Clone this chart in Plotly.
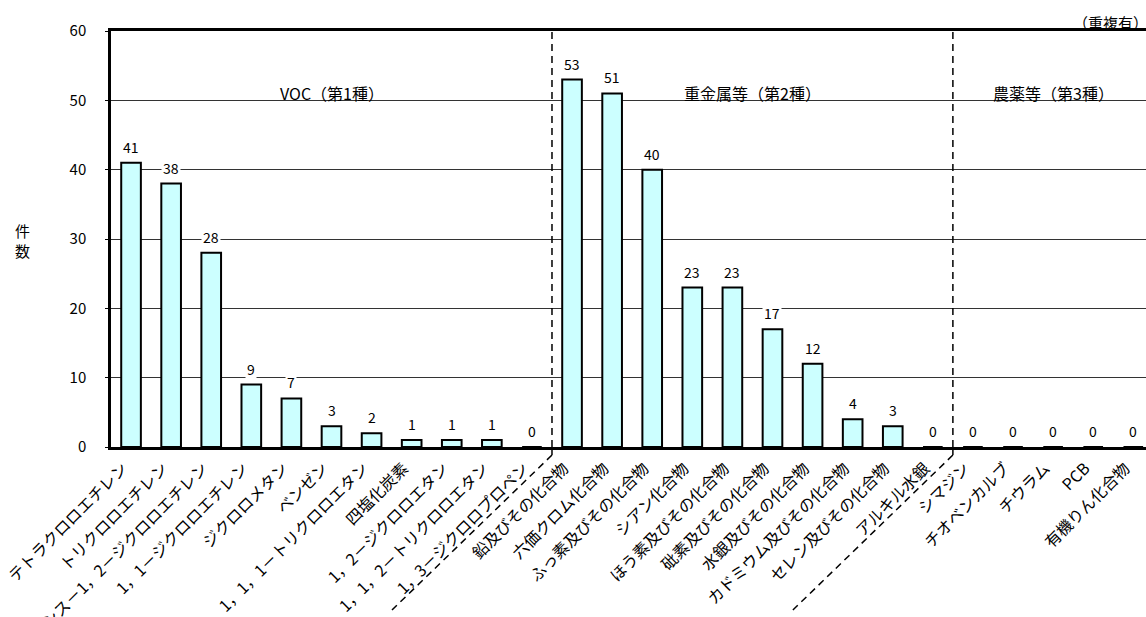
import plotly.graph_objects as go

categories = [
    "テトラクロロエチレン", "トリクロロエチレン", "シス－1，2－ジクロロエチレン",
    "1，1－ジクロロエチレン", "ジクロロメタン", "ベンゼン",
    "1，1，1－トリクロロエタン", "四塩化炭素", "1，2－ジクロロエタン",
    "1，1，2－トリクロロエタン", "1，3－ジクロロプロペン",
    "鉛及びその化合物", "六価クロム化合物", "ふっ素及びその化合物", "シアン化合物",
    "ほう素及びその化合物", "砒素及びその化合物", "水銀及びその化合物",
    "カドミウム及びその化合物", "セレン及びその化合物", "アルキル水銀",
    "シマジン", "チオベンカルブ", "チウラム", "PCB", "有機りん化合物",
]
values = [41, 38, 28, 9, 7, 3, 2, 1, 1, 1, 0,
          53, 51, 40, 23, 23, 17, 12, 4, 3, 0,
          0, 0, 0, 0, 0]
group_names = ["VOC（第1種）", "重金属等（第2種）", "農薬等（第3種）"]
group_sizes = [11, 10, 5]
y_ticks = [0, 10, 20, 30, 40, 50, 60]

FONT = "Noto Sans CJK JP, Noto Sans, sans-serif"
W, H = 1146, 617
ML, MT = 111, 31
plot_bottom = 447
plot_h = plot_bottom - MT
MB = H - plot_bottom
MR = 0
n = len(categories)
cat_px = 40.09
plot_w = W - ML - MR
x_max = -0.5 + plot_w / cat_px

fig = go.Figure()
fig.add_trace(go.Bar(
    x=list(range(n)), y=values, width=0.49,
    marker=dict(color="#CCFFFF", line=dict(color="black", width=2)),
    hoverinfo="x+y",
))

annotations = []
for i, v in enumerate(values):
    annotations.append(dict(
        x=i, y=v, xref="x", yref="y", text=str(v), showarrow=False,
        yanchor="bottom", yshift=4, bgcolor="white", borderpad=1,
        font=dict(family=FONT, size=14, color="black"),
    ))

start = 0
seps = []
for gname, gsize in zip(group_names, group_sizes):
    end = start + gsize
    center = (start + end - 1) / 2
    annotations.append(dict(
        x=center, y=(plot_bottom - 79) / plot_h, xref="x", yref="paper",
        text=gname, showarrow=False,
        font=dict(family=FONT, size=16, color="black"),
    ))
    if end < n:
        seps.append(end - 0.5)
    start = end

annotations.append(dict(
    x=1, y=1, xref="paper", yref="paper", text="（重複有）", showarrow=False,
    xanchor="right", yanchor="bottom", xshift=4, yshift=-4,
    font=dict(family=FONT, size=15, color="black"),
))
annotations.append(dict(
    x=(22 - ML) / plot_w, y=(plot_bottom - 240) / plot_h,
    xref="paper", yref="paper", text="件<br>数", showarrow=False,
    xanchor="center", yanchor="middle",
    font=dict(family=FONT, size=15, color="black"),
))

shapes = []
drop_px = 8
diag_dx = 160
diag_dy = 155
for s in seps:
    shapes.append(dict(type="line", xref="x", yref="paper", x0=s, x1=s, y0=0, y1=1,
                       line=dict(color="black", width=1.5, dash="7px,5px")))
    shapes.append(dict(type="line", xref="x", yref="paper", x0=s, x1=s, y0=0,
                       y1=-drop_px / plot_h, line=dict(color="black", width=1.5)))
    shapes.append(dict(type="line", xref="x", yref="paper",
                       x0=s, y0=-drop_px / plot_h,
                       x1=s - diag_dx / cat_px, y1=-(drop_px + diag_dy) / plot_h,
                       line=dict(color="black", width=1.5, dash="7px,5px")))

fig.update_layout(
    width=W, height=H,
    margin=dict(l=ML, r=MR, t=MT, b=MB, autoexpand=False),
    plot_bgcolor="white", paper_bgcolor="white",
    showlegend=False,
    font=dict(family=FONT, size=14, color="black"),
    annotations=annotations, shapes=shapes,
)
fig.update_xaxes(
    range=[-0.5, x_max], tickmode="array", tickvals=list(range(n)), ticktext=categories,
    tickangle=-45, showline=True, linecolor="black", linewidth=2.5, mirror=True,
    showgrid=False, ticks="", automargin=False, ticklabeloverflow="allow",
    ticklabelshift=-8, ticklabelstandoff=3,
    tickfont=dict(family=FONT, size=16, color="black"),
)
fig.update_yaxes(
    range=[0, 60], tickmode="array", tickvals=y_ticks,
    showline=True, linecolor="black", linewidth=2.5,
    showgrid=True, gridcolor="#333333", gridwidth=1, zeroline=False,
    ticks="outside", ticklen=3, tickcolor="black", ticklabelstandoff=16,
    automargin=False, tickfont=dict(family=FONT, size=15, color="black"),
)
fig.write_html("out.html", config={"displayModeBar": False},
               post_script="document.body.style.margin='0px';")
